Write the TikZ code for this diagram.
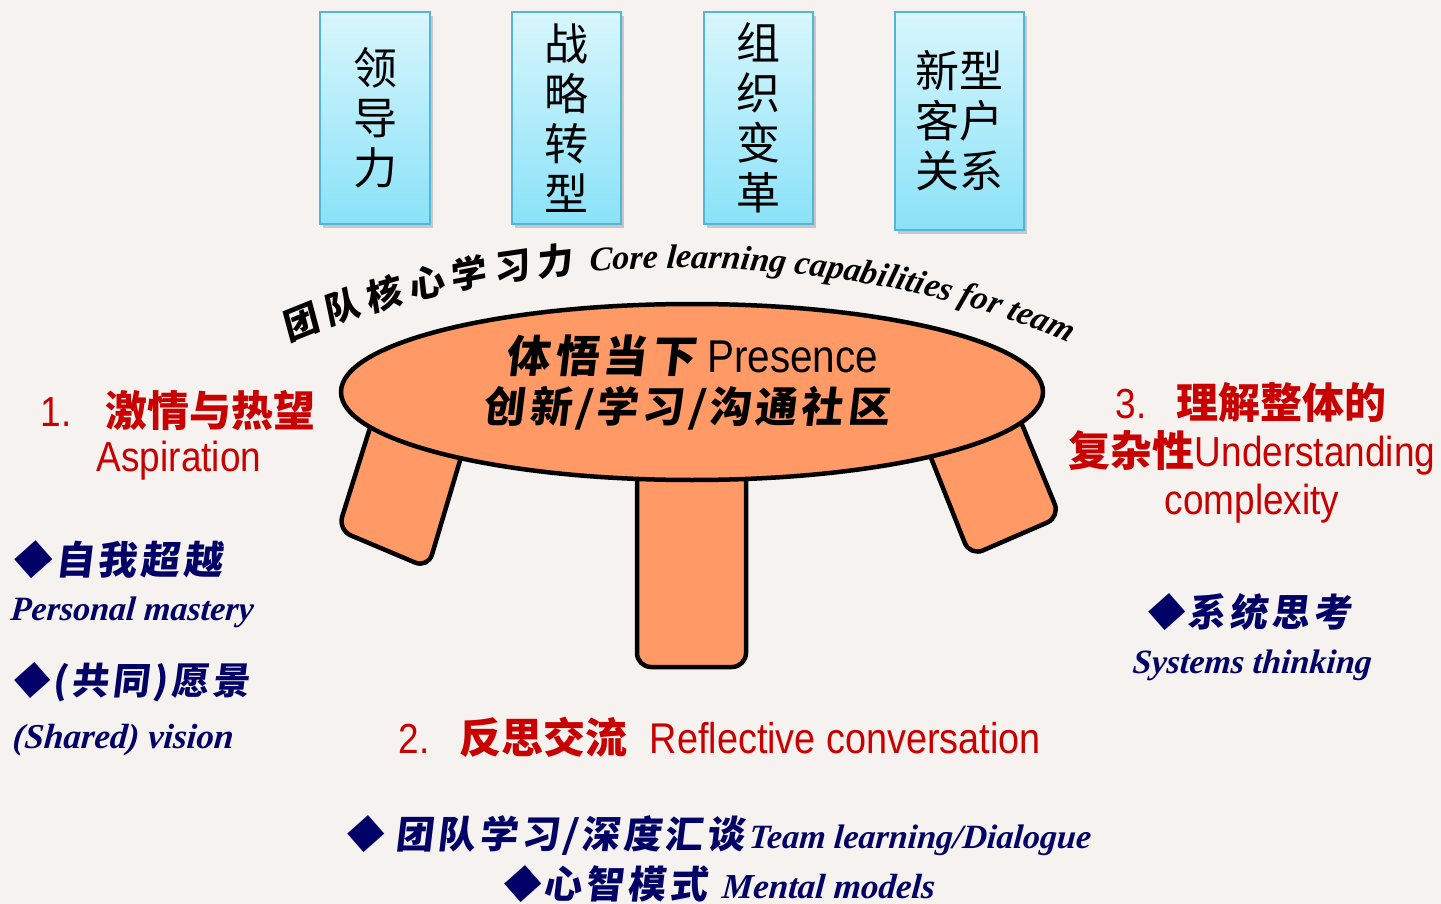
\documentclass[tikz,border=0pt]{standalone}
\usepackage{fontspec}
\setmainfont{Liberation Sans}
\newfontfamily\cjk{Noto Sans CJK SC}
\newfontfamily\cjkbrush[FakeSlant=0.12,LetterSpace=10]{Noto Sans CJK SC}
\newfontfamily\cjkcurve[FakeSlant=0.12]{Noto Sans CJK SC}
\newfontfamily\narrow[FakeStretch=0.88]{Liberation Sans}
\newfontfamily\scriptf[FakeSlant=0.08]{Liberation Serif}
\newcommand\setfs[1]{\fontsize{#1}{#1}\selectfont}
\newcommand\cc[1]{{#1\kern7pt}}
\usetikzlibrary{decorations.text}
\definecolor{bg}{RGB}{246,242,239}
\definecolor{boxtop}{RGB}{216,246,253}
\definecolor{boxbot}{RGB}{138,226,248}
\definecolor{boxedge}{RGB}{84,182,214}
\definecolor{tableorange}{RGB}{255,153,102}
\definecolor{titlered}{RGB}{200,0,0}
\definecolor{navy}{RGB}{0,0,102}
\begin{document}
\begin{tikzpicture}[x=1pt,y=-1pt,
  topbox/.style={draw=boxedge, line width=1.5pt, top color=boxtop, bottom color=boxbot, inner sep=0pt, font=\cjk\fontsize{44}{50}\selectfont, align=center},
  boxshadow/.style={fill=black, opacity=0.18},
  leg/.style={fill=tableorange, draw=black, line width=4.5pt, rounded corners=14pt, line join=round},
  tabletext/.style={inner sep=0pt, text=black, align=center},
  redtitle/.style={inner sep=0pt, text=titlered, align=center},
  navytext/.style={inner sep=0pt, text=navy, anchor=west},
]
\useasboundingbox (0,0) rectangle (1441,904);
\fill[bg] (0,0) rectangle (1441,904);

% top boxes
\fill[boxshadow] (323,16) rectangle (433,228);
\fill[boxshadow] (515,16) rectangle (624,228);
\fill[boxshadow] (707,16) rectangle (816,228);
\fill[boxshadow] (898,16) rectangle (1027,234);
\node[topbox, minimum width=110, minimum height=212] (lead) at (375,118) {领\\导\\力};
\node[topbox, minimum width=109, minimum height=212] (strat) at (566.5,118) {战\\略\\转\\型};
\node[topbox, minimum width=109, minimum height=212] (org) at (758.5,118) {组\\织\\变\\革};
\node[topbox, minimum width=129, minimum height=218] (cust) at (959.5,121) {新型\\客户\\关系};

% curved title
\path[decorate, decoration={text along path, text align=center,
  text={|\cjkcurve\bfseries\setfs{36}|\cc{团}\cc{队}\cc{核}\cc{心}\cc{学}\cc{习}{力\kern16pt}|\scriptf\bfseries\itshape\setfs{34}|Core learning capabilities for team}}]
  (58,603) arc[start angle=180, end angle=360, x radius=621, y radius=335];

% table legs
\draw[leg] (385,380) -- (338,530) -- (428,568) -- (478,400) -- cycle;
\draw[leg] (637,440) -- (637,667) -- (746,667) -- (746,440) -- cycle;
\draw[leg] (908,400) -- (970,556) -- (1060,517) -- (1012,400) -- cycle;
% table top
\draw[fill=tableorange, line width=4.5pt] (692,392) ellipse [x radius=351, y radius=88];

\node[tabletext] (presence) at (692,356) {{\cjkbrush\bfseries\setfs{44}体悟当下}\hspace{12pt}{\narrow\setfs{46}Presence}};
\node[tabletext] (community) at (686,408) {\cjkbrush\bfseries\setfs{42}创新/学习/沟通社区};

% red titles
\node[redtitle] (t1) at (178,411) {{\narrow\setfs{42}1.}\hspace{34pt}{\cjk\bfseries\setfs{42}激情与热望}};
\node[redtitle] (t1en) at (179,461) {\narrow\setfs{42}Aspiration};

\node[redtitle] (t3) at (1251,403) {{\narrow\setfs{42}3.}\hspace{30pt}{\cjk\bfseries\setfs{42}理解整体的}};
\node[redtitle] (t3b) at (1252,453) {{\cjk\bfseries\setfs{42}复杂性}{\narrow\setfs{42}Understanding}};
\node[redtitle] (t3c) at (1252,504) {\narrow\setfs{42}complexity};

\node[redtitle] (t2) at (720,737) {{\narrow\setfs{42}2.}\hspace{30pt}{\cjk\bfseries\setfs{42}反思交流}\hspace{22pt}{\narrow\setfs{43}Reflective conversation}};

% navy items
\node[navytext] (pm) at (12,560) {\cjkbrush\bfseries\setfs{39}◆自我超越};
\node[navytext] (pmen) at (10,612) {\scriptf\bfseries\itshape\setfs{34}Personal mastery};
\node[navytext] (sv) at (12,682) {\cjkbrush\bfseries\setfs{37}◆(共同)愿景};
\node[navytext] (sven) at (12,740) {\scriptf\bfseries\itshape\setfs{35}(Shared) vision};

\node[navytext] (st) at (1146,612) {\cjkbrush\bfseries\setfs{38}◆系统思考};
\node[navytext] (sten) at (1132,665) {\scriptf\bfseries\itshape\setfs{34}Systems thinking};

\node[navytext] (tl) at (345,836) {{\cjkbrush\bfseries\setfs{38}◆ 团队学习/深度汇谈}\hspace{4pt}{\scriptf\bfseries\itshape\setfs{34}Team learning/Dialogue}};
\node[navytext] (mm) at (502,884) {{\cjkbrush\bfseries\setfs{38}◆心智模式}\hspace{14pt}{\scriptf\bfseries\itshape\setfs{35}Mental models}};
\end{tikzpicture}
\end{document}
